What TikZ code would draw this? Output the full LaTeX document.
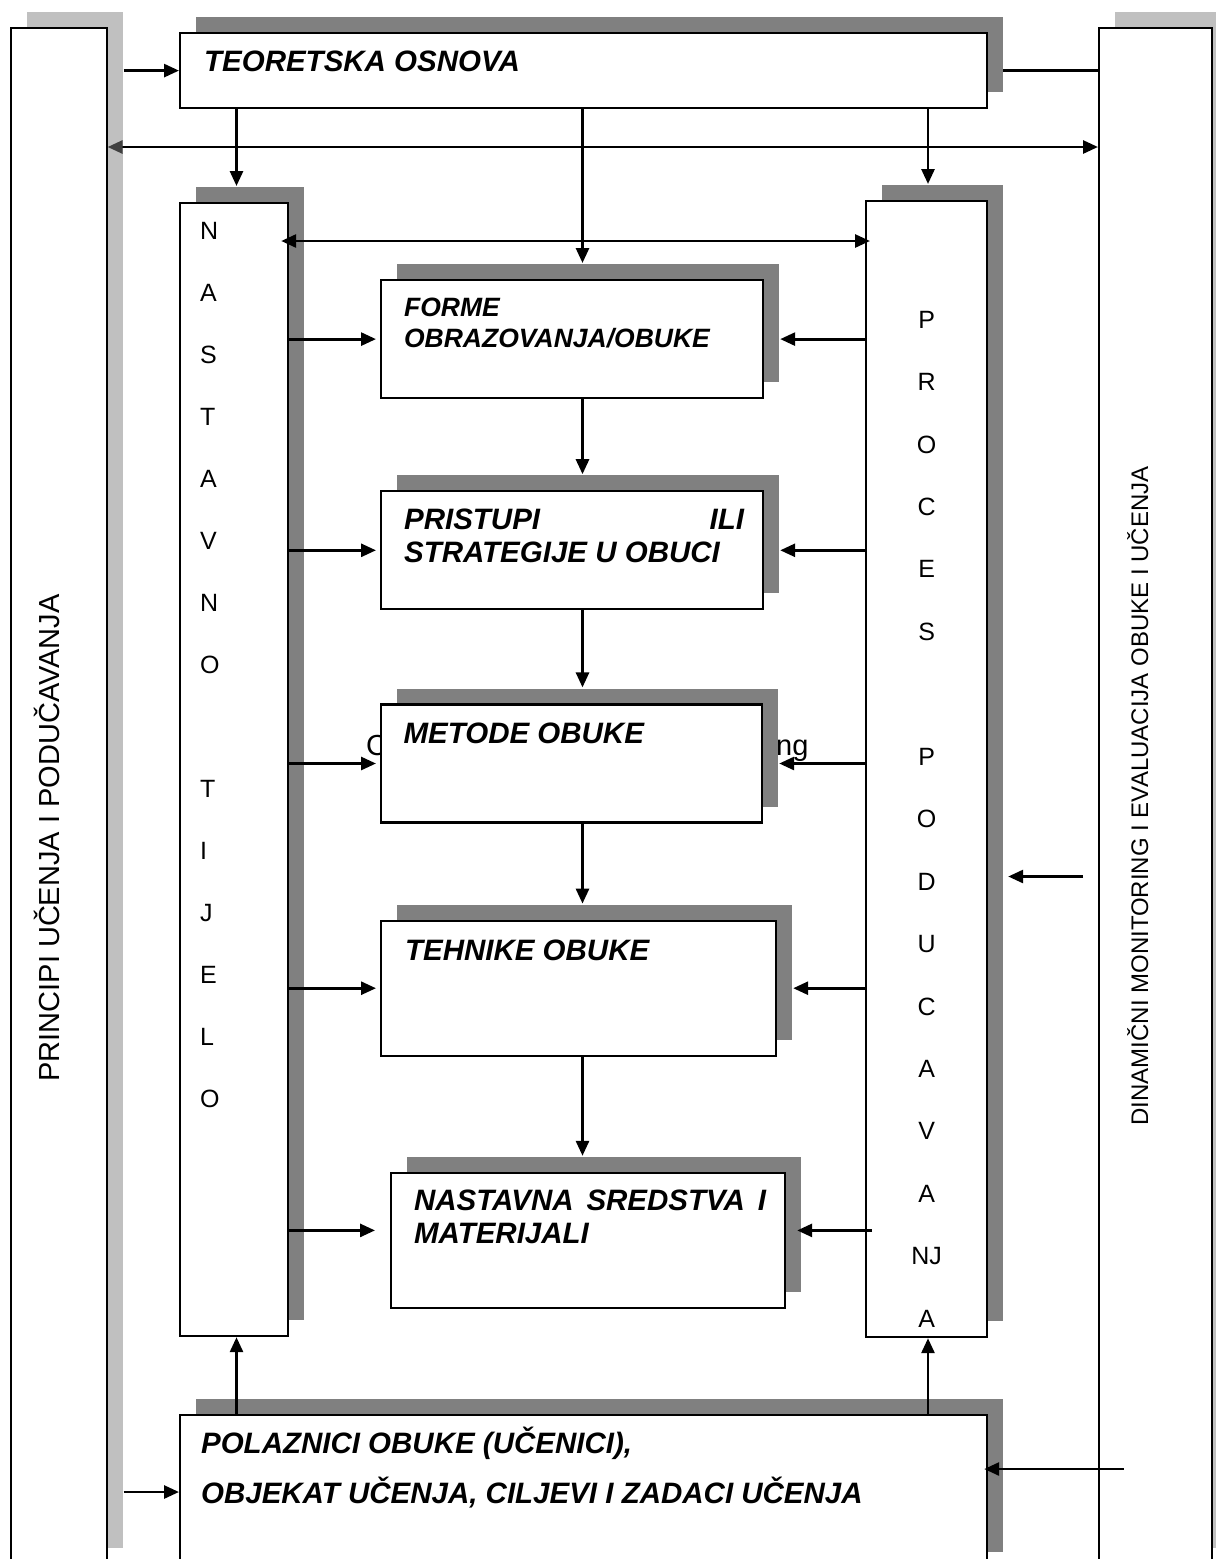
\documentclass[tikz,border=0pt]{standalone}
\usepackage{fontspec}
\setmainfont{Liberation Sans}
\usetikzlibrary{positioning, arrows.meta, shadows, backgrounds}

\definecolor{shadowgray}{HTML}{808080}
\definecolor{framegray}{HTML}{C0C0C0}

% text block set at the top left of a box
\newcommand{\boxtext}[5]{\parbox[t][#2][t]{#1}{\leftskip=#4\relax\rightskip=19pt\relax\rule{0pt}{#3}#5}}

\begin{document}
\begin{tikzpicture}[x=1pt, y=-1pt, >={Triangle[length=15pt, width=13pt]},
    every node/.style={inner sep=0pt, anchor=north west},
    stagebox/.style={draw, rectangle, fill=white, line width=2.2pt, drop shadow={shadow xshift=16pt, shadow yshift=16pt, fill=shadowgray, opacity=1}, font=\bfseries\itshape\fontsize{29.5}{33.5}\selectfont},
    letterbox/.style={stagebox, font=\fontsize{25}{62}\selectfont},
    outerbox/.style={draw, rectangle, fill=white, line width=1.6pt, minimum height=1536pt, drop shadow={shadow xshift=16pt, shadow yshift=16pt, fill=framegray, opacity=1}},
    sidetext/.style={rotate=90, anchor=base, font=\fontsize{24}{29}\selectfont},
    flow/.style={->, line width=2.8pt},
    toshadow/.style={flow, shorten >=16pt}]
\useasboundingbox (0,0) rectangle (1216,1559);

            % Outer frames
            \node[outerbox, minimum width=96pt] (princ) at (10,27) {};
            \node[outerbox, minimum width=113pt] (dinam) at (1098,27) {};
            \node[sidetext, font=\fontsize{29}{34}\selectfont] (princtxt) at (59,838) {PRINCIPI UČENJA I PODUČAVANJA};
            \node[sidetext] (dinamtxt) at (1148,796) {DINAMIČNI MONITORING I EVALUACIJA OBUKE I UČENJA};

            % Top and bottom
            \node[stagebox] (teor) at (179,32) {\boxtext{807pt}{75pt}{38pt}{24pt}{TEORETSKA OSNOVA}};
            \node[stagebox, font=\bfseries\itshape\fontsize{29.5}{50}\selectfont] (polaz) at (179,1414) {\boxtext{807pt}{153pt}{38pt}{21pt}{POLAZNICI OBUKE (UČENICI),\\OBJEKAT UČENJA, CILJEVI I ZADACI UČENJA}};

            % Side columns
            \node[letterbox] (nast) at (179,202) {\boxtext{108pt}{1133pt}{36pt}{20pt}{N\\A\\S\\T\\A\\V\\N\\O\\\mbox{}\\T\\I\\J\\E\\L\\O}};
            \node[letterbox, font=\fontsize{25}{62.45}\selectfont] (proc) at (865,200) {\boxtext{121pt}{1136pt}{127pt}{0pt}{\centering P\\R\\O\\C\\E\\S\\\mbox{}\\P\\O\\D\\U\\C\\A\\V\\A\\NJ\\A}};

            % Middle column
            \node[stagebox, font=\bfseries\itshape\fontsize{26.5}{31}\selectfont] (forme) at (380,279) {\boxtext{382pt}{118pt}{36pt}{23pt}{FORME\\OBRAZOVANJA/OBUKE}};
            \node[stagebox, below=91pt of forme.south west, anchor=north west] (prist) {\boxtext{382pt}{118pt}{37.7pt}{23pt}{PRISTUPI\hfill ILI\\STRATEGIJE U OBUCI}};
            \node[anchor=base west, font=\fontsize{29}{34}\selectfont] (ghost) at (366,755) {C\hspace{389pt}ng};
            \node[stagebox, below=93pt of prist.south west, anchor=north west] (metode) {\boxtext{381pt}{118pt}{39pt}{22.5pt}{METODE OBUKE}};
            \node[stagebox, below=96pt of metode.south west, anchor=north west] (tehn) {\boxtext{395pt}{135pt}{39.4pt}{24pt}{TEHNIKE OBUKE}};
            \node[stagebox, below=115pt of tehn.south west, anchor=north west, xshift=10pt] (sred) {\boxtext{394pt}{135pt}{37.4pt}{23pt}{NASTAVNA\hfill SREDSTVA\hfill I\\MATERIJALI}};

            % Helper coordinates
            \coordinate (colL) at (236.5,0);
            \coordinate (colM) at (582.5,0);
            \coordinate (colR) at (928,0);
            \coordinate (princR) at ([xshift=16pt]princ.east);
            \coordinate (span) at (0,147);
            \coordinate (link) at (0,241);
            \coordinate (sredin) at ([yshift=10pt]sred.west);
            \coordinate (dinamin) at (0,876.5);
            \coordinate (polin) at (0,1492);
            \coordinate (polout) at (0,1469);

            % Arrows from the frames
            \draw[flow] (princR |- teor.west) -- (teor.west);
            \begin{pgfonlayer}{background}
            \draw[flow, shorten >=-6pt] (dinam.west |- teor.east) -- (teor.east);
            \end{pgfonlayer}
            \draw[flow, {Triangle[length=15pt, width=13pt, color=black!75]}->] (princ.east |- span) -- (dinam.west |- span);
            \draw[flow, shorten <=15pt, shorten >=20pt] (dinam.west |- dinamin) -- (proc.east |- dinamin);
            \draw[flow] (princR |- polin) -- (polaz.west |- polin);
            \draw[flow, shorten <=-25.7pt, shorten >=-4pt] (dinam.west |- polout) -- (polaz.east |- polout);

            % Arrows down and up
            \draw[toshadow] (colL |- teor.south) -- (colL |- nast.north);
            \draw[toshadow] (colR |- teor.south) -- (colR |- proc.north);
            \draw[toshadow] (colM |- teor.south) -- (colM |- forme.north);
            \draw[toshadow] (colM |- forme.south) -- (colM |- prist.north);
            \draw[toshadow] (colM |- prist.south) -- (colM |- metode.north);
            \draw[toshadow] (colM |- metode.south) -- (colM |- tehn.north);
            \draw[toshadow] (colM |- tehn.south) -- (colM |- sred.north);
            \draw[flow] (colL |- polaz.north) -- (colL |- nast.south);
            \draw[flow] (colR |- polaz.north) -- (colR |- proc.south);

            % Arrows from the side columns
            \draw[flow, <->, shorten <=-8pt, shorten >=-5pt] (nast.east |- link) -- (proc.west |- link);
            \draw[flow, shorten >=4pt] (nast.east |- forme.west) -- (forme.west);
            \draw[flow, shorten >=4pt] (nast.east |- prist.west) -- (prist.west);
            \draw[flow, shorten >=4pt] (nast.east |- metode.west) -- (metode.west);
            \draw[flow, shorten >=4pt] (nast.east |- tehn.west) -- (tehn.west);
            \draw[flow, shorten >=15pt] (nast.east |- sredin) -- (sredin);
            \draw[toshadow] (proc.west |- forme.east) -- (forme.east);
            \draw[toshadow] (proc.west |- prist.east) -- (prist.east);
            \draw[toshadow] (proc.west |- metode.east) -- (metode.east);
            \draw[toshadow] (proc.west |- tehn.east) -- (tehn.east);
            \draw[flow, shorten <=-7pt, shorten >=11pt] (proc.west |- sredin) -- (sred.east |- sredin);
\end{tikzpicture}
\end{document}
